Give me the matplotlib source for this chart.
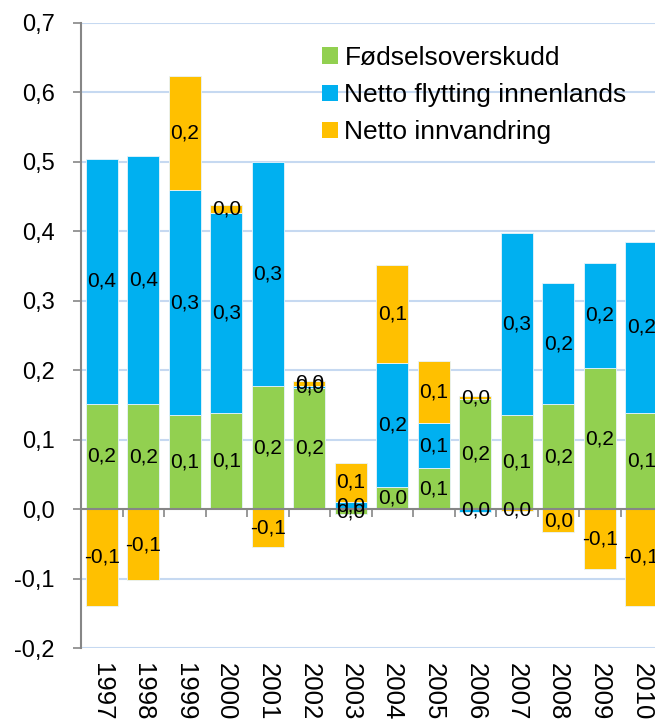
import matplotlib
matplotlib.use("Agg")
import matplotlib.pyplot as plt
from matplotlib.patches import Patch
import numpy as np

plt.rcParams['font.family'] = ['Liberation Sans', 'DejaVu Sans']

years = ['1997', '1998', '1999', '2000', '2001', '2002', '2003', '2004',
         '2005', '2006', '2007', '2008', '2009', '2010']
fodselsoverskudd = [0.152, 0.151, 0.135, 0.138, 0.177, 0.175, -0.007, 0.032,
                    0.059, 0.158, 0.135, 0.151, 0.203, 0.139]
flytting_innenlands = [0.352, 0.358, 0.325, 0.289, 0.323, 0.003, 0.010, 0.179,
                       0.065, -0.004, 0.263, 0.174, 0.152, 0.246]
innvandring = [-0.139, -0.102, 0.164, 0.011, -0.055, 0.006, 0.057, 0.141,
               0.090, 0.005, -0.002, -0.033, -0.086, -0.139]

series = [
    ('Fødselsoverskudd', fodselsoverskudd, '#92D050'),
    ('Netto flytting innenlands', flytting_innenlands, '#00B0F0'),
    ('Netto innvandring', innvandring, '#FFC000'),
]

W, H = 655, 722
fig = plt.figure(figsize=(W / 100, H / 100), dpi=100)
left_px, right_px = 81, 662
top_px, bot_px = 23, 648
ax = fig.add_axes([left_px / W, (H - bot_px) / H,
                   (right_px - left_px) / W, (bot_px - top_px) / H])

x = np.arange(len(years))
pos_base = np.zeros(len(years))
neg_base = np.zeros(len(years))
bar_w = 0.76


def fmt(v):
    s = f"{v:.1f}"
    if s == "-0.0":
        s = "0.0"
    return s.replace('.', ',')


for name, vals, col in series:
    vals = np.array(vals)
    bottoms = np.where(vals >= 0, pos_base, neg_base)
    ax.bar(x, vals, bar_w, bottom=bottoms, color=col, edgecolor='#E8F4FB',
           linewidth=0.6, zorder=3, label=name)
    for xi, b, v in zip(x, bottoms, vals):
        ax.text(xi, b + v / 2, fmt(v), ha='center', va='center',
                fontsize=15, color='black', zorder=5)
    pos_base = np.where(vals >= 0, pos_base + vals, pos_base)
    neg_base = np.where(vals < 0, neg_base + vals, neg_base)

ax.set_xlim(-0.5, len(years) - 0.5)
ax.set_ylim(-0.2, 0.7)
yt = np.round(np.arange(-0.2, 0.71, 0.1), 1)
ax.set_yticks(yt)
ax.set_yticklabels([fmt(v) for v in yt], fontsize=17)
for v in yt:
    if abs(v) > 1e-9:
        ax.axhline(v, color='#C6D9F1', lw=1.5, zorder=1)

ax.set_xticks(x)
ax.set_xticklabels(years, rotation=270, fontsize=18.5, va='top', ha='center')
ax.tick_params(axis='x', length=0, pad=11)
ax.tick_params(axis='y', length=6, width=1.2, color='#868686', pad=13)

for s in ['top', 'right', 'bottom']:
    ax.spines[s].set_visible(False)
ax.spines['left'].set_color('#868686')
ax.spines['left'].set_linewidth(1.5)

# zero axis line with boundary ticks
zero_frac = (0 - (-0.2)) / 0.9
sec = ax.secondary_xaxis(zero_frac)
sec.set_xticks(np.arange(-0.5, len(years), 1.0))
sec.set_xticklabels([])
sec.tick_params(axis='x', direction='out', length=6, width=1.2, color='#868686')
sec.spines['bottom'].set_color('#868686')
sec.spines['bottom'].set_linewidth(1.5)
sec.set_zorder(4)

handles = [Patch(facecolor=c, edgecolor='none') for _, _, c in series]
labels = [n for n, _, _ in series]
fig.legend(handles, labels, loc='upper left',
           bbox_to_anchor=(322 / W, 1 - 46 / H), frameon=False,
           fontsize=19, handlelength=0.6, handleheight=0.6,
           handletextpad=0.25, labelspacing=0.5, borderpad=0, borderaxespad=0)

fig.savefig('out.png', dpi=100)
